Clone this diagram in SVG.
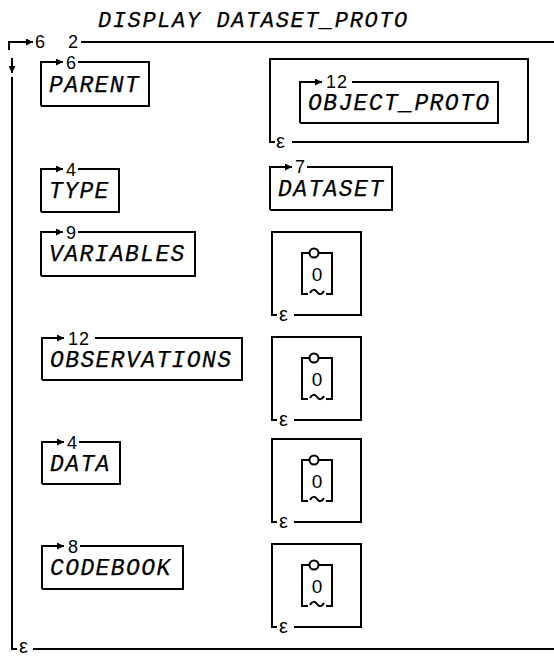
<svg xmlns="http://www.w3.org/2000/svg" width="554" height="657" viewBox="0 0 554 657">
<defs>
<style>
.ln{fill:none;stroke:#000;stroke-width:2}
.lbl{font-family:"Liberation Mono","DejaVu Sans Mono",monospace;font-style:italic;font-size:23px;letter-spacing:1.4px;fill:#000;stroke:#000;stroke-width:0.25}
.ttl{font-family:"Liberation Mono","DejaVu Sans Mono",monospace;font-style:italic;font-size:22px;letter-spacing:1.6px;fill:#000;stroke:#000;stroke-width:0.25}
.num{font-family:"Liberation Sans",Arial,sans-serif;font-size:18px;letter-spacing:1px;fill:#000}
.eps{font-family:"Liberation Sans",Arial,sans-serif;font-size:20px;fill:#000}
.cir{fill:#fff;stroke:#000;stroke-width:2}
</style>
<marker id="ah" viewBox="0 0 8 8" refX="8" refY="4" markerWidth="7" markerHeight="7" markerUnits="userSpaceOnUse" orient="auto">
<path d="M0,0 L8,4 L0,8 z" fill="#000"/>
</marker>
<g id="empty">
<path class="ln" d="M22,83 H89 V0 H0 V83 H5"/>
<text class="eps" x="7" y="89">ε</text>
<path class="ln" d="M36,62 H30 V21 H60 V62 H54"/>
<circle class="cir" cx="42" cy="21" r="4.5"/>
<path class="ln" d="M38,61 C40,57 43,57 45,60 C47,63 50,63 52,59"/>
<text class="num" x="45" y="49" text-anchor="middle" style="letter-spacing:0;font-size:19px">0</text>
</g>
</defs>
<rect width="554" height="657" fill="#fff"/>

<text class="ttl" x="98" y="27">DISPLAY DATASET_PROTO</text>

<g id="frame">
<path class="ln" d="M9,50 V42 H33" marker-end="url(#ah)"/>
<text class="num" y="48"><tspan x="35">6</tspan><tspan x="68">2</tspan></text>
<path class="ln" d="M81,42 H554"/>
<path class="ln" d="M12,58 V73" marker-end="url(#ah)"/>
<path class="ln" d="M12,77 V649 H17"/>
<text class="eps" x="19" y="653">ε</text>
<path class="ln" d="M33,649 H554"/>
</g>

<g id="parent" transform="translate(41,62)">
<path class="ln" d="M0,44 V0 H22" marker-end="url(#ah)"/>
<text class="num" x="25" y="7">6</text>
<path class="ln" d="M37,0 H108 V44 H0"/>
<text class="lbl" x="8" y="30">PARENT</text>
</g>

<g id="type" transform="translate(41,169)">
<path class="ln" d="M0,43 V0 H22" marker-end="url(#ah)"/>
<text class="num" x="25" y="7">4</text>
<path class="ln" d="M37,0 H78 V43 H0"/>
<text class="lbl" x="8" y="29">TYPE</text>
</g>

<g id="variables" transform="translate(41,232)">
<path class="ln" d="M0,44 V0 H22" marker-end="url(#ah)"/>
<text class="num" x="25" y="7">9</text>
<path class="ln" d="M37,0 H154 V44 H0"/>
<text class="lbl" x="8" y="29">VARIABLES</text>
</g>

<g id="observations" transform="translate(42,338)">
<path class="ln" d="M0,42 V0 H22" marker-end="url(#ah)"/>
<text class="num" x="26" y="7">12</text>
<path class="ln" d="M53,0 H200 V42 H0"/>
<text class="lbl" x="8" y="29">OBSERVATIONS</text>
</g>

<g id="data" transform="translate(42,442)">
<path class="ln" d="M0,42 V0 H22" marker-end="url(#ah)"/>
<text class="num" x="25" y="7">4</text>
<path class="ln" d="M37,0 H78 V42 H0"/>
<text class="lbl" x="8" y="29">DATA</text>
</g>

<g id="codebook" transform="translate(42,546)">
<path class="ln" d="M0,43 V0 H22" marker-end="url(#ah)"/>
<text class="num" x="26" y="7">8</text>
<path class="ln" d="M38,0 H141 V43 H0"/>
<text class="lbl" x="8" y="29">CODEBOOK</text>
</g>

<g id="object_proto_outer">
<path class="ln" d="M292,142 H528 V59 H270 V142 H275"/>
<text class="eps" x="276" y="148">ε</text>
</g>

<g id="object_proto" transform="translate(300,82)">
<path class="ln" d="M0,41 V0 H22" marker-end="url(#ah)"/>
<text class="num" x="26" y="6">12</text>
<path class="ln" d="M52,0 H198 V41 H0"/>
<text class="lbl" x="8" y="28">OBJECT_PROTO</text>
</g>

<g id="dataset" transform="translate(270,167)">
<path class="ln" d="M0,43 V0 H22" marker-end="url(#ah)"/>
<text class="num" x="25" y="6">7</text>
<path class="ln" d="M37,0 H122 V43 H0"/>
<text class="lbl" x="8" y="29">DATASET</text>
</g>

<g id="variables_value" transform="translate(272,232)"><use href="#empty"/></g>
<g id="observations_value" transform="translate(272,337)"><use href="#empty"/></g>
<g id="data_value" transform="translate(272,439)"><use href="#empty"/></g>
<g id="codebook_value" transform="translate(272,544)"><use href="#empty"/></g>
</svg>
